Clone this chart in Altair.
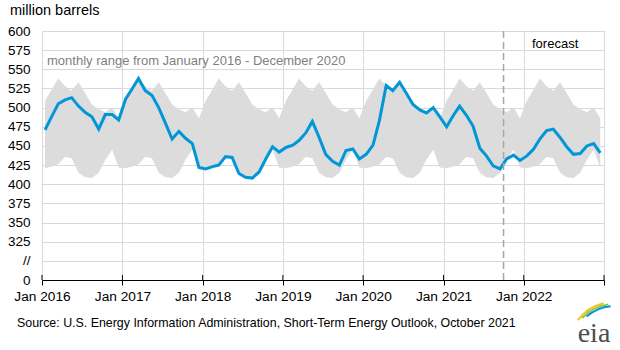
import altair as alt
import pandas as pd

# ---- data (million barrels), monthly Jan 2016 - Dec 2022 ----
years = [2016, 2017, 2018, 2019, 2020, 2021, 2022]
inv_2016 = [471, 489, 505, 510, 513, 502, 494, 488, 472, 491, 491, 484]
inv_2017 = [511, 525, 538, 522, 516, 500, 480, 459, 469, 460, 453, 422]
inv_2018 = [420, 423, 425, 436, 435, 414, 409, 408, 416, 433, 449, 442]
inv_2019 = [448, 451, 457, 467, 482, 461, 439, 430, 425, 444, 446, 433]
inv_2020 = [439, 451, 483, 529, 522, 533, 519, 504, 497, 493, 500, 488]
inv_2021 = [475, 490, 502, 490, 476, 447, 437, 424, 420, 433, 438, 431]
inv_2022 = [437, 446, 459, 470, 472, 461, 449, 439, 440, 450, 453, 441]
series = [inv_2016, inv_2017, inv_2018, inv_2019, inv_2020, inv_2021, inv_2022]

# monthly range Jan 2016 - Dec 2020 (by calendar month)
range_max = [509, 524, 538, 528, 522, 533, 519, 504, 498, 494, 500, 486]
range_min = [421, 423, 426, 436, 434, 415, 409, 408, 415, 432, 445, 422]

y_ticks = [275, 300, 325, 350, 375, 400, 425, 450, 475, 500, 525, 550, 575, 600]
tick_years = [2016, 2017, 2018, 2019, 2020, 2021, 2022, 2023]
forecast_start = "2021-10-01T00:00:00"

title_text = "million barrels"
range_text = "monthly range from January 2016 - December 2020"
forecast_text = "forecast"
source_text = "Source: U.S. Energy Information Administration, Short-Term Energy Outlook, October 2021"
logo_text = "eia"

rows = []
for yr, vals in zip(years, series):
    for m in range(12):
        rows.append({"date": pd.Timestamp(yr, m + 1, 15), "value": vals[m],
                     "hi": range_max[m], "lo": range_min[m]})
df = pd.DataFrame(rows)
ticks_df = pd.DataFrame({"date": [pd.Timestamp(y, 1, 1) for y in tick_years]})

FONT = "Liberation Sans"
GRID = "#d9d9d9"

x_enc = alt.X(
    "date:T",
    scale=alt.Scale(domain=[alt.DateTime(year=2016, month=1, date=1),
                            alt.DateTime(year=2023, month=1, date=1)]),
    axis=alt.Axis(
        values=[alt.DateTime(year=y, month=1, date=1) for y in tick_years],
        labelExpr="year(datum.value) == 2023 ? '' : 'Jan ' + year(datum.value)",
        grid=True, gridColor=GRID, domainColor="black", tickColor="black",
        tickSize=5, labelFontSize=13.7, labelColor="black", labelFont=FONT,
        labelPadding=4, title=None, labelFlush=False, labelOverlap=False,
        tickCount=30,
    ),
)
y_scale = alt.Scale(domain=[275, 600], nice=False, zero=False)
y_axis = alt.Axis(
    values=y_ticks, tickCount=40,
    labelExpr="datum.value == 275 ? '0' : datum.value == 300 ? '//\u00a0\u00a0' : datum.label",
    domain=False, ticks=False, grid=True, gridColor=GRID,
    labelFontSize=13.5, labelColor="black", labelFont=FONT, labelPadding=12,
    labelOverlap=False, labelFlush=False, title=None,
)

base = alt.Chart(df)
band = base.mark_area(color="#dcdcdc").encode(
    x=x_enc, y=alt.Y("hi:Q", scale=y_scale, axis=y_axis), y2="lo:Q")
line = base.mark_line(color="#0096d7", strokeWidth=3).encode(
    x="date:T", y=alt.Y("value:Q", scale=y_scale))
rule = alt.Chart(pd.DataFrame({"date": [forecast_start]})).mark_rule(
    color="#a6a6a6", strokeDash=[7, 4], strokeWidth=1.5).encode(x="date:T")
# upper half of the crossing tick marks on the x axis
tick_up = alt.Chart(ticks_df).mark_rule(color="black", strokeWidth=1).encode(
    x="date:T", y=alt.value(244), y2=alt.value(249))


def label(txt, x, y, size=13, color="black", align="left", font=FONT, baseline="middle"):
    return alt.Chart(pd.DataFrame({"t": [txt]})).mark_text(
        align=align, baseline=baseline, fontSize=size, color=color, font=font
    ).encode(text="t:N", x=alt.value(x), y=alt.value(y))


texts = [
    label(title_text, -32, -20, 14.5),
    label(range_text, 5, 30, 13, "#808080"),
    label(forecast_text, 490, 13, 13),
    label(source_text, -25, 292, 12.4),
    label(logo_text, 552, 311, 28, "#4d4d4d", "center", "Liberation Serif", "alphabetic"),
]

one = pd.DataFrame({"k": [0]})
arcs = [
    alt.Chart(one).mark_arc(theta=5.35, theta2=6.05, radius=46, radius2=44, color="#f7c31a")
    .encode(x=alt.value(572), y=alt.value(316)),
    alt.Chart(one).mark_arc(theta=5.45, theta2=6.15, radius=44, radius2=42, color="#8cc63f")
    .encode(x=alt.value(572), y=alt.value(316)),
    alt.Chart(one).mark_arc(theta=5.55, theta2=6.2, radius=42, radius2=40, color="#0096d7")
    .encode(x=alt.value(572), y=alt.value(316)),
]

chart = alt.layer(band, line, rule, tick_up, *texts, *arcs).properties(
    width=562, height=249,
    padding={"left": 42, "top": 31, "right": 16, "bottom": 70},
    autosize=alt.AutoSizeParams(type="none"),
).configure_view(stroke=None).configure(font=FONT, background="white")

chart.save("out.html", embed_options={"renderer": "svg", "actions": False})
